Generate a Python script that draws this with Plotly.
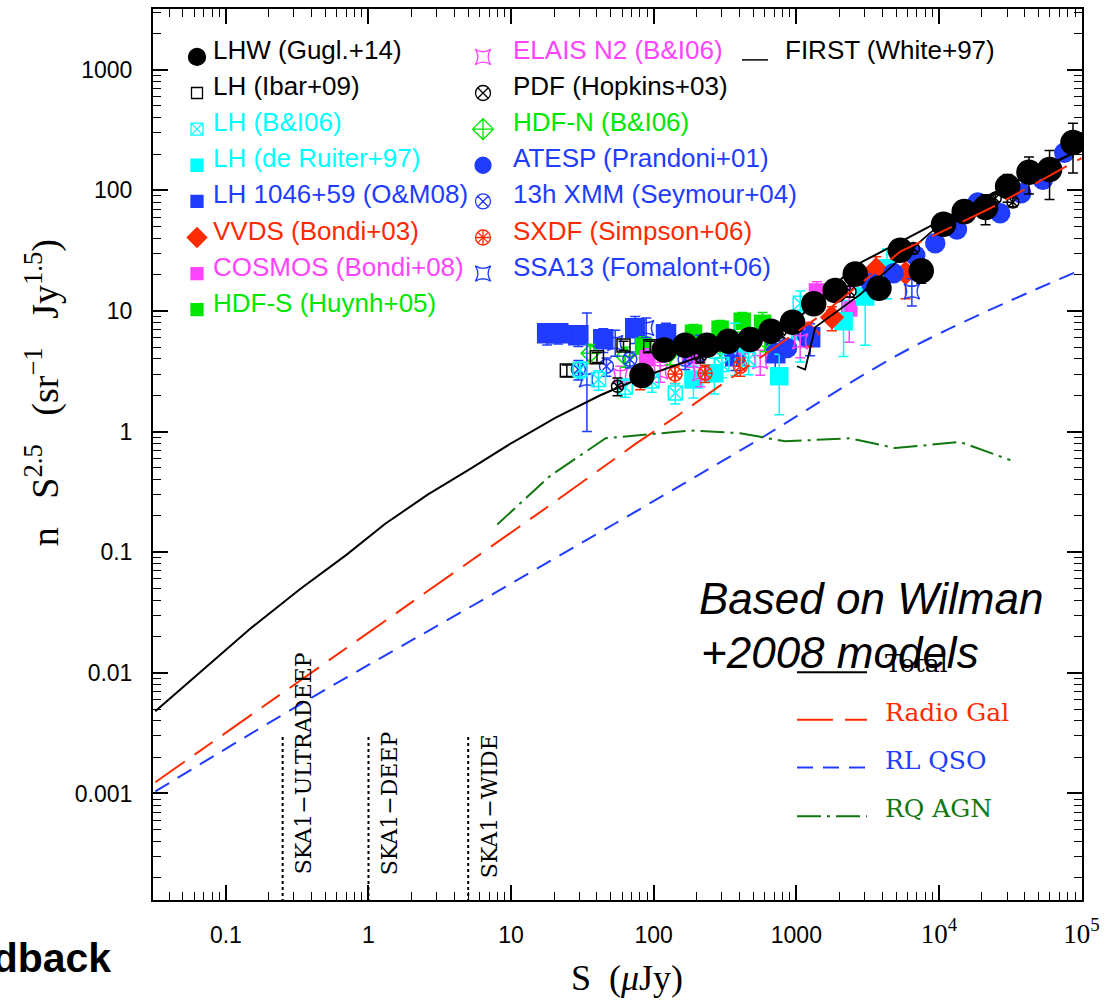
import plotly.graph_objects as go
import numpy as np

# ---------------- data ----------------
lhw_S = [82.7, 118.5, 166, 236, 334, 475, 664, 940, 1324, 1874, 2588, 3795, 5354, 7515, 10770, 15040, 21220, 30290, 42760, 59650, 87060]
lhw_n = [2.92, 4.75, 5.19, 5.19, 5.6, 5.79, 6.78, 8.05, 11.45, 14.75, 20.2, 15.4, 31.9, 21.5, 52.3, 66.6, 71.9, 107.5, 141, 149, 249]
lhw_e = [0.3, 0.4, 0.4, 0.4, 0.5, 0.6, 0.8, 1.0, 1.4, 2.0, 2.5, 2.5, 3, 4.5, 7, 9, 20, 28, 48, 65, 110]

ibar_S = [24.6, 40, 61.4, 94.5]
ibar_n = [3.21, 4.13, 5.16, 5.1]
ibar_e = [0.35, 0.4, 0.45, 0.5]

bi06_S = [30.5, 41, 63.1, 97, 141.6, 301, 462, 1065]
bi06_n = [3.27, 2.70, 2.33, 2.62, 2.09, 3.59, 3.96, 11.6]
bi06_e = [0.5, 0.5, 0.4, 0.5, 0.4, 0.8, 1.0, 3]

druit_S = [190, 266, 373, 759, 1065, 2143, 3040, 4318]
druit_n = [2.70, 3.05, 5.4, 2.88, 6.78, 8.2, 13.2, 22.6]
druit_e = [0.8, 1.0, 2.5, 1.5, 3, 4, 8, 10]

om08_S = [17.9, 21.4, 29.6, 44.3, 74.2, 122, 212, 373, 711, 1250]
om08_n = [6.53, 6.53, 6.28, 5.82, 7.18, 6.4, 5.1, 4.21, 4.46, 6.05]
om08_e = [1.3, 1.2, 1.2, 1.3, 1.8, 1.5, 1.2, 1.0, 1.2, 1.8]

vvds_S = [1210, 1778, 3630, 5830]
vvds_n = [6.52, 8.85, 22.2, 20.6]
vvds_e = [1.5, 2, 6, 8]

cosmos_S = [90, 180, 403, 1396, 2350]
cosmos_n = [4.06, 4.21, 5.1, 14.5, 10.5]
cosmos_e = [0.8, 0.8, 1.0, 3, 5]

hdfs_S = [84.9, 190, 292, 417, 580]
hdfs_n = [5.1, 6.53, 7.04, 8.2, 7.9]
hdfs_e = [1.0, 1.2, 1.3, 1.5, 1.8]

elais_S = [58.3, 111, 212, 558, 1065]
elais_n = [2.88, 3.16, 3.05, 3.83, 5.6]
elais_e = [0.6, 0.6, 0.7, 0.9, 1.5]

pdf_S = [55.7, 212, 770, 2380, 6630, 24800, 33000]
pdf_n = [2.38, 4.2, 6.8, 14.5, 33, 86, 80]
pdf_e = [0.4, 0.5, 0.8, 1.5, 3, 6, 7]

hdfn_S = [35.9, 63, 130, 292, 604]
hdfn_n = [4.46, 4.21, 4.46, 5.1, 5.8]
hdfn_e = [0.8, 0.8, 0.9, 1.0, 1.2]

atesp_S = [861, 1187, 3337, 4805, 6820, 9420, 13370, 18700, 26900, 37760, 53580, 75660]
atesp_n = [4.93, 6.28, 17.0, 20.5, 28.8, 36.4, 47.3, 79.1, 64.5, 94.4, 122.5, 205]
atesp_e = [0.5, 0.6, 1.5, 2, 2.5, 3, 4, 7, 7, 12, 18, 25]

xmm_S = [29.6, 46.6, 68, 166, 346]
xmm_n = [3.28, 3.48, 3.97, 3.97, 4.6]
xmm_e = [0.6, 0.6, 0.6, 0.7, 0.8]

sxdf_S = [80.5, 141, 229, 405]
sxdf_n = [2.72, 3.0, 3.05, 3.48]
sxdf_e = [0.5, 0.5, 0.5, 0.6]

ssa13_S = [34, 53.7, 88.6, 212, 6460]
ssa13_n = [2.7, 5.42, 7.22, 5.1, 14.5]
ssa13_ep = [6.9, 1.5, 1.5, 1.2, 4]
ssa13_em = [1.7, 1.2, 1.2, 1.0, 3.5]

first_S = [1009, 1153, 1356, 1727, 2800, 5354, 10700, 22900, 50000, 100000]
first_n = [3.48, 3.27, 7.32, 9.02, 13.7, 27, 55, 89, 150, 220]

# Wilman+2008 model curves
tot_S = [0.032, 0.066, 0.148, 0.332, 0.7, 1.31, 2.6, 5.17, 10, 20.4, 42.2, 83, 212, 475, 1065, 2673, 10700, 22900, 101000]
tot_n = [0.0048, 0.0101, 0.0232, 0.0495, 0.095, 0.172, 0.30, 0.49, 0.80, 1.30, 2.0, 2.82, 4.2, 5.6, 9.0, 24.3, 57.3, 92, 221]

rg_S = [0.032, 0.332, 1.67, 18.8, 74.5, 145, 277, 555, 1560, 5354, 22900, 100000]
rg_n = [0.00124, 0.0086, 0.033, 0.246, 0.79, 1.34, 2.3, 4.08, 9.6, 31, 71, 185]

qso_S = [0.032, 0.37, 10, 475, 6350, 100000]
qso_n = [0.00104, 0.0059, 0.055, 0.78, 4.93, 22]

rq_S = [8.0, 18.8, 46, 180, 403, 834, 2380, 4920, 14100, 31700]
rq_n = [0.17, 0.43, 0.88, 1.02, 0.97, 0.83, 0.88, 0.73, 0.82, 0.58]

ska_S = [0.25, 1, 5]
ska_names = ["SKA1−ULTRADEEP", "SKA1−DEEP", "SKA1−WIDE"]
ska_top = 0.003
ska_bottom = 1e-4

x_ticks = [0.1, 1, 10, 100, 1000, 1e4, 1e5]
x_ticktext = ["0.1", "1", "10", "100", "1000",
              "<span style='font-family:Liberation Serif;font-size:27px'>10<sup>4</sup></span>",
              "<span style='font-family:Liberation Serif;font-size:27px'>10<sup>5</sup></span>"]
y_ticks = [0.001, 0.01, 0.1, 1, 10, 100, 1000]
y_ticktext = ["0.001", "0.01", "0.1", "1", "10", "100", "1000"]

# ---------------- style ----------------
BLUE = "#1f3cff"
RED = "#ff2a00"
CYAN = "#00ffff"
MAG = "#ff44ff"
GREEN = "#00e600"
DKGREEN = "#117711"
SANS = "Liberation Sans, Arial, sans-serif"
SERIF = "DejaVu Serif, serif"
TSERIF = "Liberation Serif, Times New Roman, serif"
NB = "\u00a0"

W, H = 1113, 1000
L, R, T, B = 153, 1082, 7, 900

fig = go.Figure()


def add_series(S, n, err, symbol, color, size, errminus=None, lw=1.5):
    fig.add_trace(go.Scatter(
        x=S, y=n, mode="markers",
        marker=dict(symbol=symbol, size=size, color=color, opacity=1, line=dict(color=color, width=lw)),
        error_y=dict(type="data", array=err, arrayminus=errminus, color=color, thickness=1.5, width=5) if err is not None else None,
        showlegend=False, hoverinfo="skip"))


add_series(om08_S, om08_n, om08_e, "square", BLUE, 19)
add_series(hdfs_S, hdfs_n, hdfs_e, "square", GREEN, 16)
add_series(cosmos_S, cosmos_n, cosmos_e, "square", MAG, 15)
add_series(druit_S, druit_n, druit_e, "square", CYAN, 17)
add_series(vvds_S, vvds_n, vvds_e, "diamond", RED, 17)
add_series(atesp_S, atesp_n, atesp_e, "circle", BLUE, 19)
add_series(elais_S, elais_n, elais_e, "star-square-open", MAG, 14)
add_series(hdfn_S, hdfn_n, hdfn_e, "diamond-cross-open", GREEN, 14)
add_series(xmm_S, xmm_n, xmm_e, "circle-x-open", BLUE, 14)
add_series(sxdf_S, sxdf_n, sxdf_e, "circle-open", RED, 14)
add_series(sxdf_S, sxdf_n, None, "asterisk-open", RED, 12)
add_series(ssa13_S, ssa13_n, ssa13_ep, "star-square-open", BLUE, 14, errminus=ssa13_em)
add_series(ibar_S, ibar_n, ibar_e, "square-open", "black", 13)
add_series(bi06_S, bi06_n, bi06_e, "square-x-open", CYAN, 14)
add_series(pdf_S, pdf_n, pdf_e, "circle-x-open", "black", 12)

fig.add_trace(go.Scatter(x=first_S, y=first_n, mode="lines", line=dict(color="black", width=1.8),
                         showlegend=False, hoverinfo="skip"))
add_series(lhw_S, lhw_n, lhw_e, "circle", "black", 24)

# model curves on top
fig.add_trace(go.Scatter(x=tot_S, y=tot_n, mode="lines", line=dict(color="black", width=2),
                         showlegend=False, hoverinfo="skip"))
fig.add_trace(go.Scatter(x=rg_S, y=rg_n, mode="lines", line=dict(color=RED, width=2, dash="36px,12px,22px,12px"),
                         showlegend=False, hoverinfo="skip"))
fig.add_trace(go.Scatter(x=qso_S, y=qso_n, mode="lines", line=dict(color=BLUE, width=2, dash="16px,10px", shape="spline"),
                         showlegend=False, hoverinfo="skip"))
fig.add_trace(go.Scatter(x=rq_S, y=rq_n, mode="lines", line=dict(color=DKGREEN, width=2, dash="24px,6px,3px,6px"),
                         showlegend=False, hoverinfo="skip"))

# SKA depth lines
for s in ska_S:
    fig.add_trace(go.Scatter(x=[s, s], y=[ska_bottom, ska_top], mode="lines",
                             line=dict(color="black", width=2, dash="dot"), showlegend=False, hoverinfo="skip"))

# ---------------- legend (pixel-space overlay axes) ----------------
leg_rows = [55 + i * 36.2 for i in range(8)]
col1 = [("LHW (Gugl.+14)", "black", "circle", 17, "black"),
        ("LH (Ibar+09)", "black", "square-open", 11, "black"),
        ("LH (B&amp;I06)", CYAN, "square-x-open", 12, CYAN),
        ("LH (de Ruiter+97)", CYAN, "square", 12, CYAN),
        ("LH 1046+59 (O&amp;M08)", BLUE, "square", 12, BLUE),
        ("VVDS (Bondi+03)", RED, "diamond", 15, RED),
        ("COSMOS (Bondi+08)", MAG, "square", 12, MAG),
        ("HDF-S (Huynh+05)", GREEN, "square", 12, GREEN)]
col2 = [("ELAIS N2 (B&amp;I06)", MAG, "star-square-open", 14, MAG),
        ("PDF (Hopkins+03)", "black", "circle-x-open", 15, "black"),
        ("HDF-N (B&amp;I06)", GREEN, "diamond-cross-open", 16, GREEN),
        ("ATESP (Prandoni+01)", BLUE, "circle", 16, BLUE),
        ("13h XMM (Seymour+04)", BLUE, "circle-x-open", 15, BLUE),
        ("SXDF (Simpson+06)", RED, "circle-open", 15, RED),
        ("SSA13 (Fomalont+06)", BLUE, "star-square-open", 14, BLUE)]

annotations = []


def pix_text(x, y, text, color, size, family=SANS, xanchor="left", yanchor="middle", angle=0, italic=False):
    annotations.append(dict(x=(x - L) / (R - L), y=(B - y) / (B - T), xref="paper", yref="paper",
                            text=text, showarrow=False,
                            xanchor=xanchor, yanchor=yanchor, textangle=angle,
                            font=dict(family=family, size=size, color=color,
                                      style="italic" if italic else "normal")))


for cx, tx, col in [(197, 211, col1), (483, 511, col2)]:
    for i, (lab, tcol, sym, sz, mcol) in enumerate(col):
        pix_text(tx, leg_rows[i] - 7, lab, tcol, 26)
        fig.add_trace(go.Scatter(x=[cx], y=[leg_rows[i]], xaxis="x2", yaxis="y2", mode="markers",
                                 marker=dict(symbol=sym, size=sz, color=mcol, opacity=1,
                                             line=dict(color=mcol, width=1.3)),
                                 showlegend=False, hoverinfo="skip"))
fig.add_trace(go.Scatter(x=[483], y=[leg_rows[5]], xaxis="x2", yaxis="y2", mode="markers",
                         marker=dict(symbol="asterisk-open", size=12, color=RED, opacity=1,
                                     line=dict(color=RED, width=1.3)),
                         showlegend=False, hoverinfo="skip"))
# FIRST legend
fig.add_trace(go.Scatter(x=[742, 768], y=[58, 58], xaxis="x2", yaxis="y2", mode="lines",
                         line=dict(color="black", width=1.5), showlegend=False, hoverinfo="skip"))
pix_text(783, 48, "FIRST (White+97)", "black", 26)

# model legend
mod_leg = [("Total", "black", "solid", 671.7, 663),
           ("Radio Gal", RED, "36px,12px,22px,12px", 719.3, 711.7),
           ("RL QSO", BLUE, "16px,10px", 767.3, 760),
           ("RQ AGN", DKGREEN, "24px,6px,3px,6px", 816, 808.3)]
for lab, col, dash, ly, ty in mod_leg:
    fig.add_trace(go.Scatter(x=[797, 867], y=[ly, ly], xaxis="x2", yaxis="y2", mode="lines",
                             line=dict(color=col, width=2, dash=dash), showlegend=False, hoverinfo="skip"))
    pix_text(883, ty, lab, col, 25, family=SERIF)

pix_text(697, 598, "Based on Wilman", "black", 44, italic=True)
pix_text(699, 652, "+2008 models", "black", 44, italic=True)

# SKA labels
ska_px = [(303, 763), (389, 803), (489, 806)]
for (px, py), name in zip(ska_px, ska_names):
    pix_text(px, py, name, "black", 22, family=SERIF, xanchor="center", angle=-90)

# axis titles
pix_text(627, 978, "S" + NB * 2 + "(<i>μ</i>Jy)", "black", 36, family=TSERIF, xanchor="center")
pix_text(42, 392, "n" + NB * 3 + "S<sup>2.5</sup>" + NB * 3 + "(sr<sup>−1</sup>" + NB * 3 + "Jy<sup>1.5</sup>)",
         "black", 38, family=TSERIF, xanchor="center", angle=-90)
# clipped slide text
pix_text(113, 958, "<b>Feedback</b>", "black", 41, family=SANS, xanchor="right")


def minor_vals(lo, hi):
    out = []
    for e in range(lo, hi):
        for d in range(2, 10):
            out.append(d * 10.0 ** e)
    return out


axis_common = dict(type="log", showline=True, linewidth=2, linecolor="black", mirror="ticks",
                   ticks="inside", ticklen=15, tickwidth=1.6, tickcolor="black", showgrid=False,
                   zeroline=False, tickfont=dict(family=SANS, size=23, color="black"))

fig.update_layout(
    width=W, height=H,
    margin=dict(l=L, r=W - R, t=T, b=H - B, pad=0),
    paper_bgcolor="white", plot_bgcolor="white",
    showlegend=False,
    xaxis=dict(range=[-1.511, 5.003], tickmode="array", tickvals=x_ticks, ticktext=x_ticktext,
               ticklabelstandoff=13,
               minor=dict(tickmode="array", tickvals=minor_vals(-2, 5), ticks="inside", ticklen=8,
                          tickwidth=1.4, tickcolor="black", showgrid=False),
               **axis_common),
    yaxis=dict(range=[-3.883, 3.503], tickmode="array", tickvals=y_ticks, ticktext=y_ticktext,
               ticklabelstandoff=14,
               minor=dict(tickmode="array", tickvals=minor_vals(-4, 4), ticks="inside", ticklen=8,
                          tickwidth=1.4, tickcolor="black", showgrid=False),
               **axis_common),
    xaxis2=dict(range=[L, R], overlaying="x", visible=False, fixedrange=True),
    yaxis2=dict(range=[B, T], overlaying="y", visible=False, fixedrange=True),
    annotations=annotations,
)

fig.write_html("out.html", config={"displayModeBar": False},
               post_script="document.body.style.margin='0';document.body.style.overflow='hidden';")
